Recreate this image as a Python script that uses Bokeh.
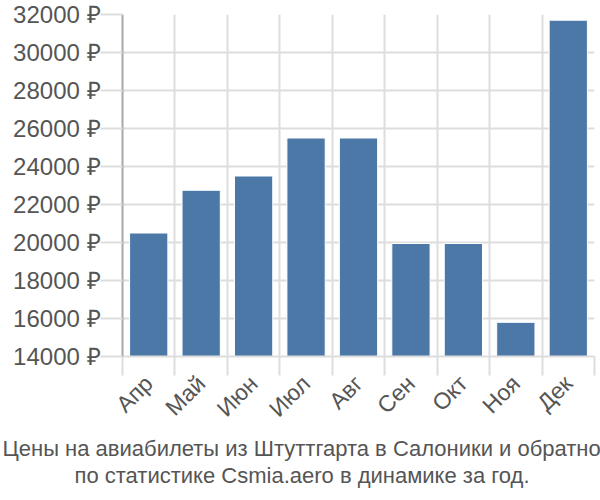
import math
from bokeh.plotting import figure
from bokeh.models import FixedTicker, Range1d, Title, ColumnDataSource
from bokeh.embed import file_html
from bokeh.resources import INLINE

months = ["Апр", "Май", "Июн", "Июл", "Авг", "Сен", "Окт", "Ноя", "Дек"]
prices = [20500, 22750, 23500, 25500, 25500, 19950, 19950, 15800, 31700]
y_ticks = [14000, 16000, 18000, 20000, 22000, 24000, 26000, 28000, 30000, 32000]
title_lines = ["Цены на авиабилеты из Штуттгарта в Салоники и обратно",
               "по статистике Csmia.aero в динамике за год."]

FONT = "Liberation Sans"
TXT = "#555555"
GRID = "#dddddd"

n = len(months)
centers = [i + 0.5 for i in range(n)]
src = ColumnDataSource(dict(x=centers, top=prices, m=months))

p = figure(width=600, height=500, output_backend="svg", toolbar_location=None,
           x_range=Range1d(0, n), y_range=Range1d(y_ticks[0], y_ticks[-1]),
           min_border_left=122, min_border_right=6, min_border_top=14,
           min_border_bottom=144, outline_line_color=None)

p.vbar(x="x", top="top", bottom=y_ticks[0], width=0.73, source=src,
       fill_color="#4c78a8", line_color="#ffffff", line_width=1)

# x axis: labels at centers, tick marks at category boundaries
xt = FixedTicker(ticks=centers, minor_ticks=list(range(n + 1)))
p.xaxis.ticker = xt
p.xaxis.major_label_overrides = {c: m for c, m in zip(centers, months)}
p.xaxis.major_tick_out = 0
p.xaxis.major_tick_in = 0
p.xaxis.minor_tick_out = 19
p.xaxis.minor_tick_in = 0
p.xaxis.minor_tick_line_color = GRID
p.xaxis.minor_tick_line_width = 2
p.xaxis.axis_line_color = GRID
p.xaxis.axis_line_width = 2
p.xaxis.major_label_orientation = math.pi / 4
p.xaxis.major_label_text_font = FONT
p.xaxis.major_label_text_font_size = "23px"
p.xaxis.major_label_text_color = TXT
p.xaxis.major_label_standoff = 4

p.xgrid.ticker = FixedTicker(ticks=list(range(n + 1)))
p.xgrid.grid_line_color = GRID
p.xgrid.grid_line_width = 2

p.yaxis.ticker = FixedTicker(ticks=y_ticks)
p.yaxis.major_label_overrides = {t: f"{t} ₽" for t in y_ticks}
p.yaxis.major_tick_out = 22
p.yaxis.major_tick_in = 0
p.yaxis.major_tick_line_color = GRID
p.yaxis.major_tick_line_width = 2
p.yaxis.minor_tick_line_color = None
p.yaxis.axis_line_color = "#a8a8a8"
p.yaxis.axis_line_width = 2
p.yaxis.major_label_text_font = FONT
p.yaxis.major_label_text_font_size = "24px"
p.yaxis.major_label_text_color = TXT
p.yaxis.major_label_standoff = 0
p.ygrid.grid_line_color = GRID
p.ygrid.grid_line_width = 2

# two centred title lines below the chart (offset shifts left-aligned text)
title_offsets = [-120, -48]
for line, off in zip(title_lines, title_offsets):
    t = Title(text=line, align="left", offset=off, text_font=FONT,
              text_font_size="22px", text_color=TXT, text_font_style="normal",
              standoff=0)
    p.add_layout(t, "below")

open("out.html", "w").write(file_html(p, INLINE))
